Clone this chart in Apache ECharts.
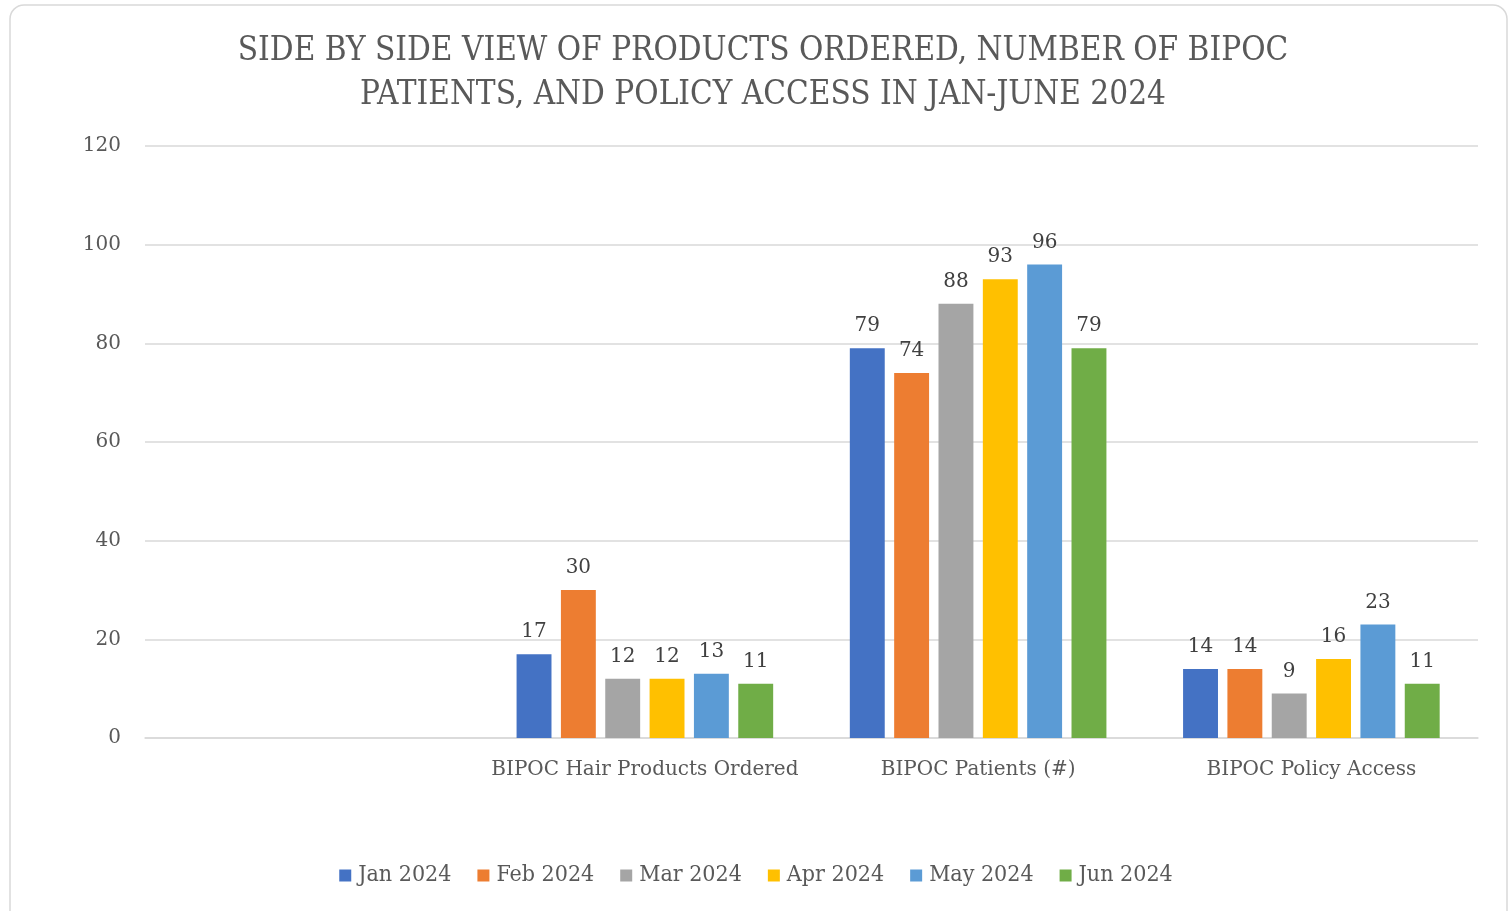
<!DOCTYPE html>
<html>
<head>
<meta charset="utf-8">
<script src="https://cdn.jsdelivr.net/npm/echarts@6/dist/echarts.min.js"></script>
<style>
html,body{margin:0;padding:0;background:#fff;}
#chart{width:1512px;height:911px;}
</style>
</head>
<body>
<div id="chart"></div>
<script>
const categories = ['', 'BIPOC Hair Products Ordered', 'BIPOC Patients (#)', 'BIPOC Policy Access'];
const seriesNames = ['Jan 2024', 'Feb 2024', 'Mar 2024', 'Apr 2024', 'May 2024', 'Jun 2024'];
const jan = [null, 17, 79, 14];
const feb = [null, 30, 74, 14];
const mar = [null, 12, 88, 9];
const apr = [null, 12, 93, 16];
const may = [null, 13, 96, 23];
const jun = [null, 11, 79, 11];
const yTicks = [0, 20, 40, 60, 80, 100, 120];
const colors = ['#4472C4', '#ED7D31', '#A5A5A5', '#FFC000', '#5B9BD5', '#70AD47'];

const seriesData = [jan, feb, mar, apr, may, jun];
const chart = echarts.init(document.getElementById('chart'));
const serif = '"DejaVu Serif", serif';
const serifC = '"DejaVu Serif Condensed", "DejaVu Serif", serif';
chart.setOption({
  animation: false,
  color: colors,
  graphic: [{
    type: 'rect',
    shape: {x: 10, y: 5, width: 1497, height: 920, r: 14},
    style: {fill: 'none', stroke: '#d9d9d9', lineWidth: 1.5},
    silent: true
  }],
  title: {
    text: 'SIDE BY SIDE VIEW OF PRODUCTS ORDERED, NUMBER OF BIPOC\nPATIENTS, AND POLICY ACCESS IN JAN-JUNE 2024',
    left: 758, textAlign: 'center', top: 24,
    textStyle: {fontFamily: serifC, fontSize: 33, fontWeight: 'normal', color: '#595959', lineHeight: 44}
  },
  legend: {
    data: seriesNames,
    bottom: 19, left: 'center',
    itemWidth: 12, itemHeight: 12, itemGap: 26,
    icon: 'rect',
    textStyle: {fontFamily: serifC, fontSize: 23, color: '#595959', padding: [0,0,0,2]}
  },
  grid: {left: 145, right: 34, top: 146, bottom: 173, containLabel: false},
  xAxis: {
    type: 'category', data: categories,
    axisLine: {lineStyle: {color: '#d9d9d9', width: 1.5}},
    axisTick: {show: false},
    axisLabel: {interval: 0, fontFamily: serif, fontSize: 20, color: '#595959', margin: 22}
  },
  yAxis: {
    type: 'value', min: 0, max: 120, interval: 20,
    axisLine: {show: false}, axisTick: {show: false},
    splitLine: {lineStyle: {color: '#d9d9d9', width: 1.5}},
    axisLabel: {fontFamily: serif, fontSize: 20, color: '#595959', margin: 24,
      formatter: v => yTicks.includes(v) ? String(v) : ''}
  },
  series: seriesData.map((d, i) => ({
    name: seriesNames[i], type: 'bar', data: d,
    barGap: '27%', barCategoryGap: '23%',
    label: {show: true, position: 'top', distance: 12, fontFamily: serif, fontSize: 20, color: '#404040'}
  }))
});
</script>
</body>
</html>
